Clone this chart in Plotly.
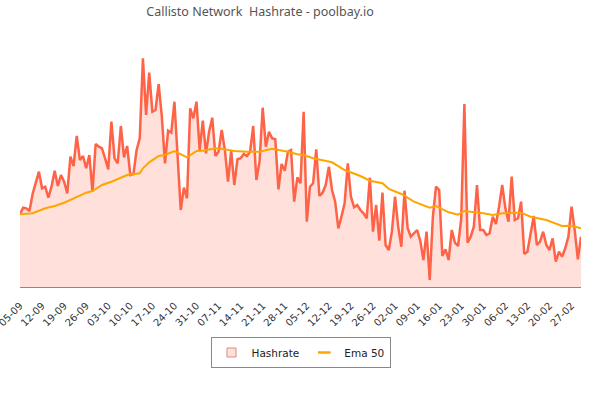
import plotly.graph_objects as go
import pandas as pd

start_date = "2019-09-05"

# Daily network hashrate (arbitrary GH/s-like units)
hashrate = [
    7.27, 7.93, 7.87, 7.60, 9.30, 10.37, 11.53, 9.87, 10.03, 8.93,
    10.03, 11.63, 10.10, 11.20, 10.53, 9.37, 13.03, 12.10, 15.10, 12.70,
    13.10, 11.87, 13.20, 9.53, 14.30, 14.03, 13.87, 12.87, 11.77, 16.53,
    12.87, 12.37, 16.10, 12.97, 14.10, 11.20, 11.30, 13.70, 14.87, 22.87,
    17.20, 21.43, 17.53, 17.70, 20.30, 17.03, 12.37, 15.63, 15.43, 18.53,
    12.70, 7.70, 9.93, 8.87, 17.87, 16.87, 18.53, 13.70, 16.63, 13.37,
    15.53, 16.93, 13.10, 13.53, 15.70, 13.70, 10.53, 13.63, 10.20, 12.77,
    12.87, 13.30, 13.10, 13.53, 16.10, 10.70, 12.53, 17.93, 14.03, 15.53,
    14.87, 14.77, 9.77, 12.30, 11.63, 13.53, 13.70, 8.53, 10.97, 10.37,
    17.53, 6.53, 10.03, 10.37, 13.77, 9.10, 9.43, 10.20, 12.03, 9.70,
    8.53, 5.87, 7.03, 8.37, 12.37, 9.03, 7.97, 8.20, 7.70, 7.37,
    6.87, 10.93, 5.53, 8.20, 4.63, 9.43, 4.20, 3.70, 5.53, 9.03,
    6.03, 4.03, 9.63, 5.87, 5.03, 5.37, 5.70, 4.63, 2.70, 5.53,
    0.70, 7.03, 10.03, 9.70, 3.10, 3.77, 2.70, 5.70, 4.43, 4.10,
    6.87, 18.30, 4.43, 5.03, 6.03, 10.20, 5.70, 5.70, 5.20, 5.37,
    7.03, 6.30, 8.03, 10.20, 7.87, 6.53, 11.03, 6.70, 6.87, 8.53,
    3.30, 3.53, 5.37, 7.10, 4.20, 4.53, 5.53, 4.20, 3.70, 4.87,
    2.53, 3.53, 3.03, 3.87, 5.03, 8.03, 5.70, 2.77, 5.03,
]

# EMA 50 at selected days (day offset from start)
ema_days = [0, 4, 8, 11, 14, 17, 21, 23, 26, 29, 32, 34, 38, 39, 41, 44, 46, 49,
            53, 56, 58, 62, 64, 68, 72, 76, 80, 85, 88, 90, 93, 99, 103, 108,
            111, 115, 117, 121, 125, 130, 132, 136, 139, 141, 147, 150, 153,
            159, 162, 167, 172, 175, 178]
ema_values = [7.27, 7.37, 7.87, 8.10, 8.43, 8.87, 9.43, 9.60, 10.20, 10.53, 10.97,
              11.20, 11.37, 11.87, 12.47, 13.10, 13.20, 13.60, 12.97, 13.60, 13.63,
              13.87, 13.83, 13.60, 13.53, 13.53, 13.83, 13.53, 13.27, 13.20, 12.87,
              12.47, 11.70, 11.10, 10.63, 10.37, 9.82, 9.30, 8.53, 7.93, 8.10,
              7.47, 7.23, 7.60, 7.37, 7.20, 7.37, 7.43, 7.03, 6.70, 6.10, 6.13, 5.87]

title_text = "Callisto Network\u00a0 Hashrate - poolbay.io"
series_names = ["Hashrate", "Ema 50"]

dates = pd.date_range(start_date, periods=len(hashrate), freq="D")
ema_dates = [dates[0] + pd.Timedelta(days=d) for d in ema_days]

fig = go.Figure()
fig.add_trace(go.Scatter(
    x=dates, y=hashrate, mode="lines", fill="tozeroy",
    line=dict(color="#ff6347", width=2.5),
    fillcolor="rgba(255,99,71,0.2)", showlegend=False, hoverinfo="skip",
))
fig.add_trace(go.Scatter(
    x=ema_dates, y=ema_values, mode="lines",
    line=dict(color="#ffa500", width=2), showlegend=False, hoverinfo="skip",
))
# legend entries
fig.add_trace(go.Scatter(
    x=[None], y=[None], mode="markers", name=series_names[0],
    marker=dict(symbol="square", size=9, color="rgba(255,99,71,0.2)",
                line=dict(color="#d98b80", width=1)),
))
fig.add_trace(go.Scatter(
    x=[None], y=[None], mode="markers", name=series_names[1],
    marker=dict(symbol="line-ew", size=9, color="#ffa500",
                line=dict(color="#ffa500", width=2.5)),
))

fig.update_layout(
    width=600, height=400,
    margin=dict(l=20, r=19, t=40, b=113, autoexpand=False),
    paper_bgcolor="white", plot_bgcolor="white",
    title=dict(text=title_text, x=260 / 600, xanchor="center", xref="container",
               y=1 - 12 / 400, yanchor="middle", yref="container",
               font=dict(family="Noto Sans", size=12.5, color="#555")),
    xaxis=dict(
        type="date", range=[dates[0], dates[-1]], automargin=False,
        tick0=start_date, dtick=7 * 24 * 3600 * 1000, tickformat="%d-%m",
        tickangle=-45, showgrid=False, zeroline=False,
        showline=True, linecolor="#888", linewidth=1,
        ticks="outside", ticklen=8, tickcolor="rgba(0,0,0,0)",
        ticklabeloverflow="allow",
        tickfont=dict(family="DejaVu Sans", size=10, color="#333"),
    ),
    yaxis=dict(range=[0, 24.7], visible=False, showgrid=False, zeroline=False,
               automargin=False),
    legend=dict(
        orientation="h", x=0.5, xanchor="center", y=1 - 337 / 400,
        yanchor="top", yref="container",
        bordercolor="#888", borderwidth=1,
        font=dict(family="DejaVu Sans", size=10.5, color="#222"),
    ),
)

fig.write_html("out.html")
